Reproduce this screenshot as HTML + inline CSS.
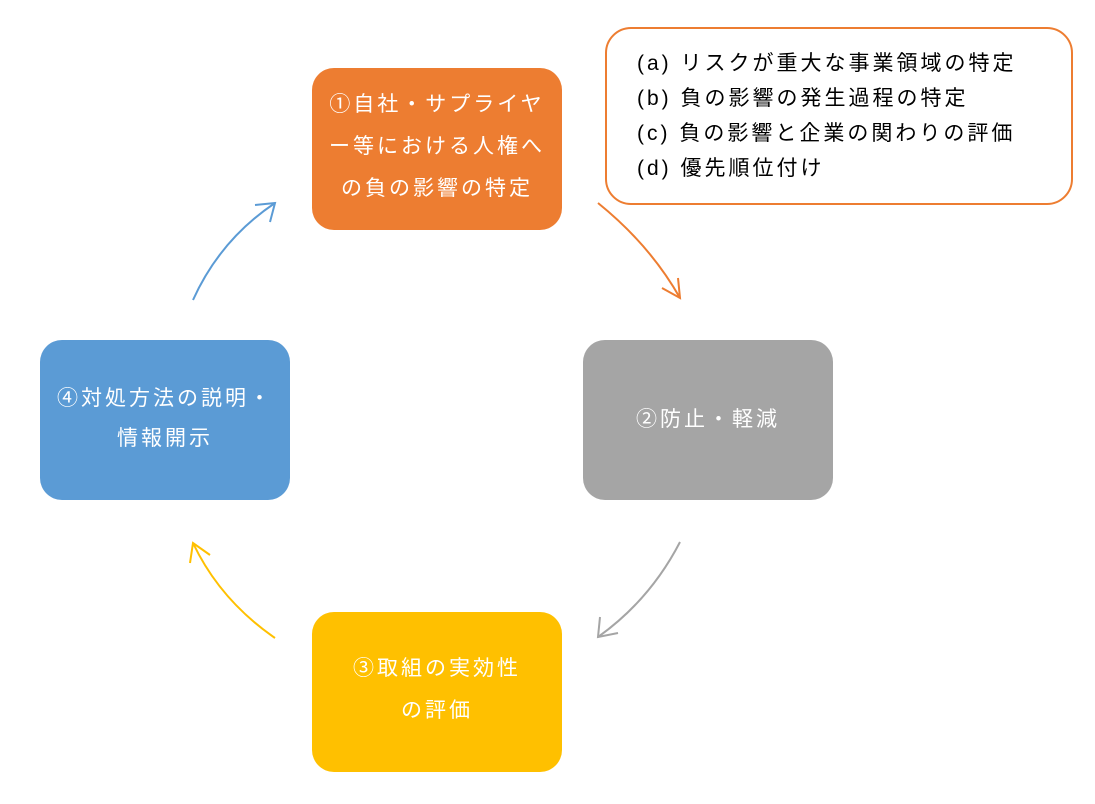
<!DOCTYPE html>
<html><head><meta charset="utf-8"><style>
body{margin:0;width:1095px;height:804px;background:#fff;position:relative;font-family:"Liberation Sans","Noto Sans CJK JP",sans-serif;overflow:hidden}
.b{position:absolute;width:250px;border-radius:22px;color:#fff;font-size:21px;letter-spacing:3px;line-height:42px;display:flex;align-items:center;justify-content:center;text-align:center}
.c{position:absolute;left:605px;top:27px;width:464px;height:174px;border:2px solid #ED7D31;border-radius:26px;font-size:21px;letter-spacing:3px;line-height:35px;color:#000}
</style></head><body>
<div class="b" style="left:312px;top:68px;height:162px;background:#ED7D31"><div style="margin-top:-4px">①自社・サプライヤ<br>ー等における人権へ<br>の負の影響の特定</div></div>
<div class="b" style="left:583px;top:340px;height:160px;background:#A5A5A5">②防止・軽減</div>
<div class="b" style="left:312px;top:612px;height:160px;background:#FFC000"><div style="margin-top:-4px">③取組の実効性<br>の評価</div></div>
<div class="b" style="left:40px;top:340px;height:160px;background:#5B9BD5;line-height:40px"><div style="margin-top:-3px">④対処方法の説明・<br>情報開示</div></div>
<div class="c"><div style="position:absolute;left:30px;top:17px;white-space:nowrap">(a)&nbsp;リスクが重大な事業領域の特定<br>(b)&nbsp;負の影響の発生過程の特定<br>(c)&nbsp;負の影響と企業の関わりの評価<br>(d)&nbsp;優先順位付け</div></div>
<svg width="1095" height="804" style="position:absolute;left:0;top:0" fill="none" stroke-width="2">
<g stroke="#ED7D31"><path d="M598 203 Q650 245 680 298"/><path d="M662 288 L680 298 L678 278"/></g>
<g stroke="#A5A5A5"><path d="M680 542 Q650 600 598 637"/><path d="M600 617 L598 637 L618 633"/></g>
<g stroke="#FFC000"><path d="M275 638 Q220 600 193 543"/><path d="M190 563 L193 543 L210 555"/></g>
<g stroke="#5B9BD5"><path d="M193 300 Q220 240 275 203"/><path d="M255 205 L275 203 L270 222"/></g>
</svg>
</body></html>
